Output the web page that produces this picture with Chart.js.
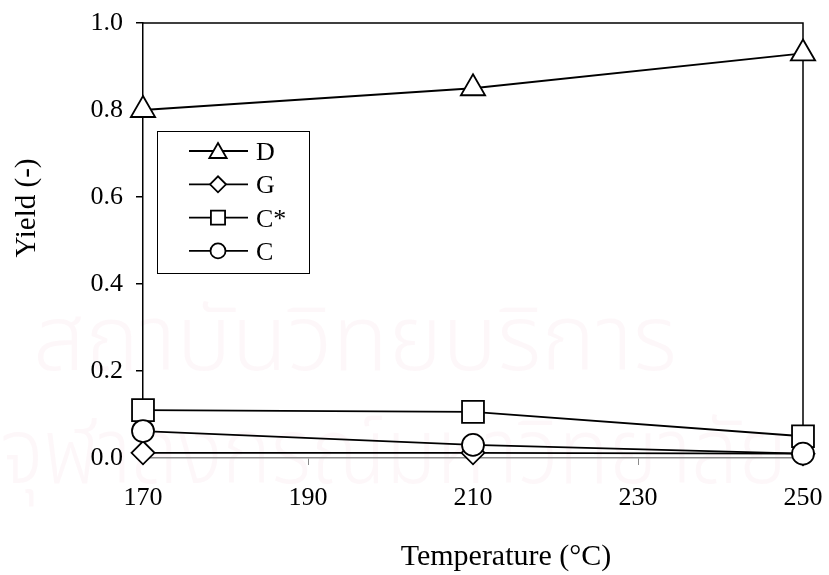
<!DOCTYPE html>
<html>
<head>
<meta charset="utf-8">
<title>Yield vs temperature</title>
<script src="https://cdn.jsdelivr.net/npm/chart.js@4/dist/chart.umd.min.js"></script>
<style>
  html, body { margin: 0; padding: 0; background: #fff; }
  #wrap { width: 829px; height: 575px; }
</style>
</head>
<body>
<div id="wrap"><canvas id="yieldChart" width="829" height="575"></canvas></div>
<script>
// temperatures (°C) and yields for each product
var temps = [170, 210, 250];
var yieldD = [0.80, 0.85, 0.93];
var yieldG = [0.012, 0.012, 0.010];
var yieldCstar = [0.110, 0.106, 0.050];
var yieldC = [0.062, 0.030, 0.010];

var seriesLabels = ['D', 'G', 'C*', 'C'];
var xTicks = [170, 190, 210, 230, 250];
var yTicks = [0.0, 0.2, 0.4, 0.6, 0.8, 1.0];

var serif = "'Liberation Serif', 'Times New Roman', serif";

function points(values) {
    return temps.map(function(t, i) { return { x: t, y: values[i] }; });
}

// marker settings per series: style, radius on chart, radius in legend
var markers = [
    { style: 'triangle', r: 14, lr: 10 },
    { style: 'rectRot', r: 11.5, lr: 8 },
    { style: 'rect', r: 15.5, lr: 10 },
    { style: 'circle', r: 11, lr: 7.5 }
];

function makeSet(label, values, m, order) {
    return {
        label: label,
        data: points(values),
        borderColor: '#000',
        borderWidth: 1.8,
        pointStyle: m.style,
        pointRadius: m.r,
        pointHoverRadius: m.r,
        pointBackgroundColor: '#fff',
        pointBorderColor: '#000',
        pointBorderWidth: 1.8,
        tension: 0,
        fill: false,
        clip: false,
        order: order
    };
}

// faint library watermark behind the plot
var watermark = {
    id: 'watermark',
    beforeDraw: function(chart) {
        var ctx = chart.ctx;
        ctx.save();
        ctx.fillStyle = 'rgba(225, 140, 175, 0.07)';
        ctx.font = "300 92px 'Noto Sans Thai', 'DejaVu Sans', sans-serif";
        ctx.textBaseline = 'alphabetic';
        ctx.textAlign = 'left';
        ctx.fillText('สถาบันวิทยบริการ', 33, 370, 644);
        ctx.fillText('จุฬาลงกรณ์มหาวิทยาลัย', 0, 483, 787);
        ctx.restore();
    }
};

// top and right edges of the plot frame, under the markers
var frame = {
    id: 'frame',
    beforeDatasetsDraw: function(chart) {
        var a = chart.chartArea, ctx = chart.ctx;
        ctx.save();
        ctx.strokeStyle = '#000';
        ctx.lineWidth = 1.5;
        ctx.beginPath();
        ctx.moveTo(a.left, a.top);
        ctx.lineTo(a.right, a.top);
        ctx.lineTo(a.right, a.bottom);
        ctx.stroke();
        ctx.restore();
    }
};

// axis titles, legend box with line + marker samples
var labels = {
    id: 'labels',
    afterDraw: function(chart) {
        var ctx = chart.ctx, a = chart.chartArea;
        ctx.save();
        ctx.fillStyle = '#000';
        ctx.font = '30px ' + serif;
        ctx.textAlign = 'center';
        ctx.textBaseline = 'alphabetic';
        ctx.fillText('Temperature (°C)', 506, 565);

        ctx.translate(35, 208);
        ctx.rotate(-Math.PI / 2);
        ctx.font = '29px ' + serif;
        ctx.fillText('Yield (-)', 0, 0);
        ctx.restore();

        // legend
        var bx = a.left + 14, by = a.top + 108, bw = 152, bh = 142;
        ctx.save();
        ctx.strokeStyle = '#000';
        ctx.lineWidth = 1;
        ctx.strokeRect(bx + 0.5, by + 0.5, bw, bh);
        ctx.font = '26px ' + serif;
        ctx.textAlign = 'left';
        ctx.textBaseline = 'alphabetic';
        chart.data.datasets.forEach(function(ds, i) {
            var cy = by + 20 + i * 33.3;
            var m = markers[i];
            ctx.strokeStyle = '#000';
            ctx.lineWidth = 1.8;
            ctx.beginPath();
            ctx.moveTo(bx + 32, cy);
            ctx.lineTo(bx + 91, cy);
            ctx.stroke();
            ctx.fillStyle = '#fff';
            Chart.helpers.drawPoint(ctx, {
                pointStyle: m.style, radius: m.lr, rotation: 0, borderWidth: 1.8
            }, bx + 61, m.style === 'triangle' ? cy + 2 : cy);
            ctx.fillStyle = '#000';
            ctx.fillText(ds.label, bx + 99, cy + 9);
        });
        ctx.restore();
    }
};

new Chart(document.getElementById('yieldChart'), {
    type: 'line',
    data: {
        datasets: [
            makeSet(seriesLabels[0], yieldD, markers[0], 3),
            makeSet(seriesLabels[1], yieldG, markers[1], 2),
            makeSet(seriesLabels[2], yieldCstar, markers[2], 1),
            makeSet(seriesLabels[3], yieldC, markers[3], 0)
        ]
    },
    options: {
        responsive: false,
        animation: false,
        devicePixelRatio: 1,
        layout: { padding: { left: 0, top: 23, right: 26, bottom: 0 } },
        plugins: {
            legend: { display: false },
            tooltip: { enabled: false }
        },
        scales: {
            x: {
                type: 'linear',
                min: 170,
                max: 250,
                afterBuildTicks: function(scale) {
                    scale.ticks = xTicks.map(function(v) { return { value: v }; });
                },
                afterFit: function(scale) {
                    scale.height = 117;
                    scale.paddingLeft = 0;
                    scale.paddingRight = 0;
                },
                border: { color: '#8c8c8c', width: 1.5 },
                grid: {
                    drawOnChartArea: false,
                    drawTicks: true,
                    tickLength: 7,
                    color: '#8c8c8c',
                    lineWidth: 1
                },
                ticks: {
                    color: '#000',
                    padding: 18,
                    maxRotation: 0,
                    font: { family: serif, size: 26 },
                    callback: function(v) { return String(v); }
                }
            },
            y: {
                min: 0,
                max: 1,
                afterBuildTicks: function(scale) {
                    scale.ticks = yTicks.map(function(v) { return { value: v }; });
                },
                afterFit: function(scale) {
                    scale.width = 143;
                    scale.paddingTop = 0;
                    scale.paddingBottom = 0;
                },
                border: { color: '#000', width: 1.5 },
                grid: {
                    drawOnChartArea: false,
                    drawTicks: true,
                    tickLength: 7,
                    color: '#000',
                    lineWidth: 1.5
                },
                ticks: {
                    color: '#000',
                    padding: 13,
                    font: { family: serif, size: 26 },
                    callback: function(v) { return Number(v).toFixed(1); }
                }
            }
        }
    },
    plugins: [watermark, frame, labels]
});
</script>
</body>
</html>
